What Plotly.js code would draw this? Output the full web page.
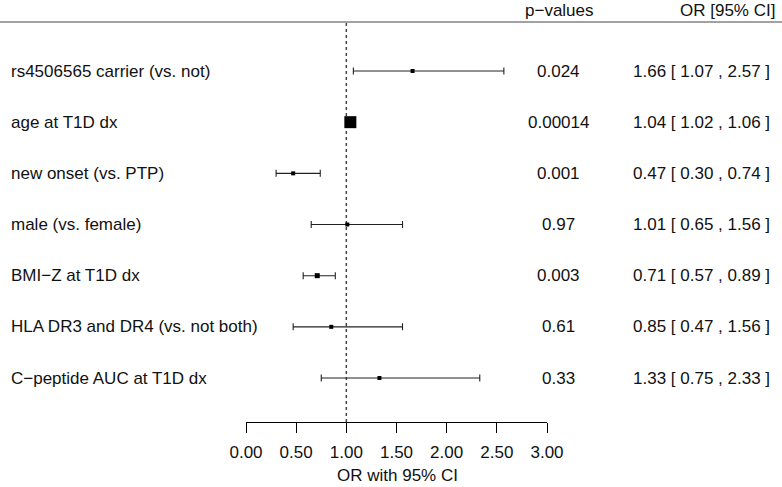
<!DOCTYPE html>
<html><head><meta charset="utf-8">
<script src="https://cdn.plot.ly/plotly-3.0.1.min.js"></script>
<style>body{margin:0;padding:0;background:#fff}#chart{width:782px;height:487px}</style>
</head><body><div id="chart"></div>
<script>
const labels = ["rs4506565 carrier (vs. not)", "age at T1D dx", "new onset (vs. PTP)", "male (vs. female)", "BMI\u2212Z at T1D dx", "HLA DR3 and DR4 (vs. not both)", "C\u2212peptide AUC at T1D dx"];
const orVals = [1.66, 1.04, 0.47, 1.01, 0.71, 0.85, 1.33];
const ciLow = [1.07, 1.02, 0.30, 0.65, 0.57, 0.47, 0.75];
const ciHigh = [2.57, 1.06, 0.74, 1.56, 0.89, 1.56, 2.33];
const pValues = ["0.024", "0.00014", "0.001", "0.97", "0.003", "0.61", "0.33"];
const tickVals = [0, 0.5, 1, 1.5, 2, 2.5, 3];
const tickText = ["0.00", "0.50", "1.00", "1.50", "2.00", "2.50", "3.00"];

const rows = labels.map((_, i) => i);
const font = {family: "Liberation Sans, Arial, Helvetica, sans-serif", size: 17, color: "#111"};
const markerSizes = [4, 12, 4, 4, 5, 4, 4];

const errTrace = {
  type: "scatter", mode: "markers",
  x: orVals, y: rows,
  marker: {size: 1, color: "rgba(0,0,0,0)"},
  error_x: {type: "data", symmetric: false,
    array: orVals.map((v, i) => ciHigh[i] - v),
    arrayminus: orVals.map((v, i) => v - ciLow[i]),
    color: "#222", thickness: 1.1, width: 3.5},
  hoverinfo: "skip", showlegend: false
};
const ptTrace = {
  type: "scatter", mode: "markers",
  x: orVals, y: rows,
  marker: {symbol: "square", size: markerSizes, color: "#000", opacity: 1, line: {width: 0}},
  hoverinfo: "skip", showlegend: false
};

const annotations = [];
const f = v => v.toFixed(2);
labels.forEach((l, i) => {
  annotations.push({xref: "paper", yref: "y", x: 9/782, y: i, text: l, showarrow: false, xanchor: "left", yanchor: "middle", font: font});
  annotations.push({xref: "paper", yref: "y", x: 558/782, y: i, text: pValues[i], showarrow: false, xanchor: "center", yanchor: "middle", font: font});
  annotations.push({xref: "paper", yref: "y", x: 772/782, y: i, text: f(orVals[i]) + " [ " + f(ciLow[i]) + " , " + f(ciHigh[i]) + " ]", showarrow: false, xanchor: "right", yanchor: "middle", font: font});
});
annotations.push({xref: "paper", yref: "paper", x: 559/782, y: 1, text: "p\u2212values", showarrow: false, xanchor: "center", yanchor: "top", borderpad: 0, font: font});
annotations.push({xref: "paper", yref: "paper", x: 776/782, y: 1, text: "OR [95% CI]", showarrow: false, xanchor: "right", yanchor: "top", borderpad: 0, font: font});
annotations.push({xref: "paper", yref: "paper", x: 397/782, y: -53/422, text: "OR with 95% CI", showarrow: false, xanchor: "center", yanchor: "middle", font: font});

const layout = {
  width: 782, height: 487,
  margin: {l: 0, r: 0, t: 0, b: 65},
  paper_bgcolor: "#fff", plot_bgcolor: "#fff",
  font: font,
  xaxis: {domain: [246/782, 547/782], range: [0, 3], tickvals: tickVals, ticktext: tickText,
    showline: true, linecolor: "#000", linewidth: 1, ticks: "outside", ticklen: 10, tickcolor: "#000", tickwidth: 1,
    showgrid: false, zeroline: false, tickfont: font, ticklabelstandoff: 5, fixedrange: true},
  yaxis: {range: [ (422-71)/51.17, -71/51.17 ], visible: false, showgrid: false, zeroline: false, fixedrange: true},
  shapes: [
    {type: "line", xref: "paper", yref: "paper", x0: 0, x1: 1, y0: 1 - 22/422, y1: 1 - 22/422, line: {color: "#444", width: 1}},
    {type: "line", xref: "x", yref: "paper", x0: 1, x1: 1, y0: 0, y1: 1 - 22/422, line: {color: "#444", width: 1.5, dash: "dot"}, layer: "below"}
  ],
  annotations: annotations
};
Plotly.newPlot("chart", [errTrace, ptTrace], layout, {displayModeBar: false, staticPlot: true});
</script></body></html>
